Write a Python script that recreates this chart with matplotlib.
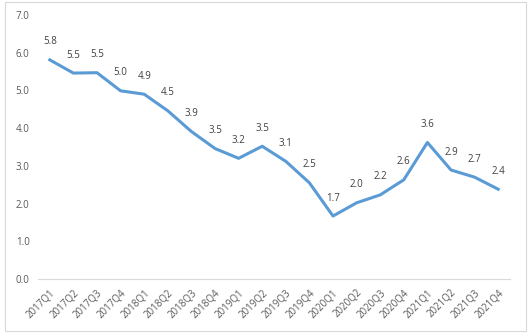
import matplotlib.pyplot as plt
from matplotlib.patches import Rectangle

quarters = [f"{y}Q{q}" for y in range(2017, 2022) for q in range(1, 5)]
rate = [5.81, 5.46, 5.47, 4.99, 4.90, 4.46, 3.91, 3.46, 3.20, 3.52,
        3.12, 2.55, 1.67, 2.02, 2.23, 2.63, 3.62, 2.89, 2.70, 2.38]
yticks = [0, 1, 2, 3, 4, 5, 6, 7]

plt.rcParams['font.family'] = ['Open Sans', 'DejaVu Sans']

fig = plt.figure(figsize=(5.31, 3.36), dpi=100)
fig.patches.append(Rectangle((5 / 531, 5 / 336), 521 / 531, 329 / 336,
                             transform=fig.transFigure, fill=False,
                             edgecolor='#d9d9d9', linewidth=0.8))
ax = fig.add_axes([38 / 531, 1 - 279 / 336, 472 / 531, 264 / 336])

x = list(range(len(quarters)))
ax.plot(x, rate, color='#5b9bd5', linewidth=2.2, solid_joinstyle='round')

for xi, v in zip(x, rate):
    ax.annotate(f"{v:.1f}", (xi, v), xytext=(0, 9), textcoords='offset points',
                ha='center', va='bottom', fontsize=7, color='#404040')

ax.set_xlim(-0.5, len(quarters) - 0.5)
ax.set_ylim(0, 7)
ax.set_yticks(yticks)
ax.set_yticklabels([f"{t:.1f}" for t in yticks], fontsize=7, color='#595959')
ax.set_xticks(x)
ax.set_xticklabels(quarters, rotation=45, ha='right', rotation_mode='anchor',
                   fontsize=7, color='#595959')
ax.tick_params(length=0, pad=6)

for side in ['top', 'right', 'left']:
    ax.spines[side].set_visible(False)
ax.spines['bottom'].set_color('#d9d9d9')
ax.spines['bottom'].set_linewidth(0.8)

fig.savefig('out.png', dpi=100)
